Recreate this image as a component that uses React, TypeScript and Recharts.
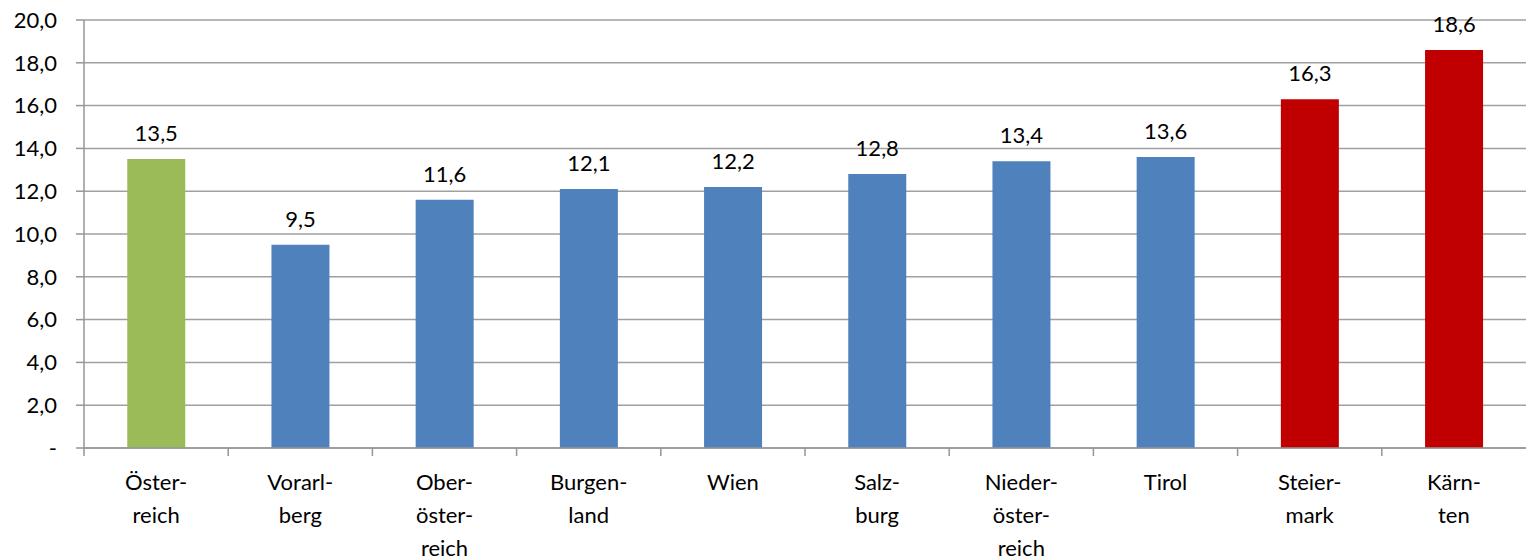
import { BarChart, Bar, XAxis, YAxis, CartesianGrid, Cell, LabelList } from "recharts";

const regions = [
  "Öster-\nreich",
  "Vorarl-\nberg",
  "Ober-\nöster-\nreich",
  "Burgen-\nland",
  "Wien",
  "Salz-\nburg",
  "Nieder-\nöster-\nreich",
  "Tirol",
  "Steier-\nmark",
  "Kärn-\nten",
];
const values = [13.5, 9.5, 11.6, 12.1, 12.2, 12.8, 13.4, 13.6, 16.3, 18.6];
const groups = ["total", "low", "low", "low", "low", "low", "low", "low", "high", "high"];
const yTicks = [0, 2, 4, 6, 8, 10, 12, 14, 16, 18, 20];

const colors: Record<string, string> = {
  total: "#9BBB59",
  low: "#4F81BD",
  high: "#C00000",
};

const data = regions.map((r, i) => ({ region: r, value: values[i], group: groups[i] }));

const FONT = "Lato, 'Open Sans', sans-serif";
const SIZE = 22;

const fmt = (v: number) => (v === 0 ? "-" : v.toFixed(1).replace(".", ","));

function RegionTick(props: any) {
  const { x, y, payload } = props;
  const half = payload.offset ?? 72;
  const lines = String(payload.value).split("\n");
  // y arrives already shifted by tickSize + tickMargin (8 px)
  const axisY = y - 8;
  return (
    <g>
      <line x1={x - half} x2={x - half} y1={axisY} y2={axisY + 8} stroke="#969696" strokeWidth={1.5} />
      <text x={x} y={axisY + 42} textAnchor="middle" fontFamily={FONT} fontSize={SIZE} fill="#000">
        {lines.map((l, i) => (
          <tspan key={i} x={x} dy={i === 0 ? 0 : 33}>
            {l}
          </tspan>
        ))}
      </text>
    </g>
  );
}

export default function App() {
  return (
    <div style={{ position: "absolute", left: 0, top: 0, background: "#fff" }}>
      <BarChart
        width={1526}
        height={559}
        data={data}
        margin={{ top: 20, right: 0, bottom: 0, left: 0 }}
        barCategoryGap="30%"
      >
        <CartesianGrid vertical={false} stroke="#a0a0a0" strokeWidth={1.5} />
        <XAxis
          dataKey="region"
          height={111}
          interval={0}
          tickLine={false}
          axisLine={{ stroke: "#969696", strokeWidth: 1.5 }}
          tick={<RegionTick />}
        />
        <YAxis
          width={84}
          domain={[0, 20]}
          ticks={yTicks}
          interval={0}
          tickFormatter={fmt}
          tickSize={8}
          tickMargin={19}
          tickLine={{ stroke: "#969696", strokeWidth: 1.5 }}
          axisLine={{ stroke: "#969696", strokeWidth: 1.5 }}
          tick={{ fontFamily: FONT, fontSize: SIZE, fill: "#000" }}
        />
        <Bar dataKey="value" isAnimationActive={false}>
          {data.map((d, i) => (
            <Cell key={i} fill={colors[d.group]} />
          ))}
          <LabelList
            dataKey="value"
            position="top"
            offset={18}
            formatter={(v: any) => fmt(Number(v))}
            style={{ fontFamily: FONT, fontSize: SIZE, fill: "#000" }}
          />
        </Bar>
      </BarChart>
    </div>
  );
}
